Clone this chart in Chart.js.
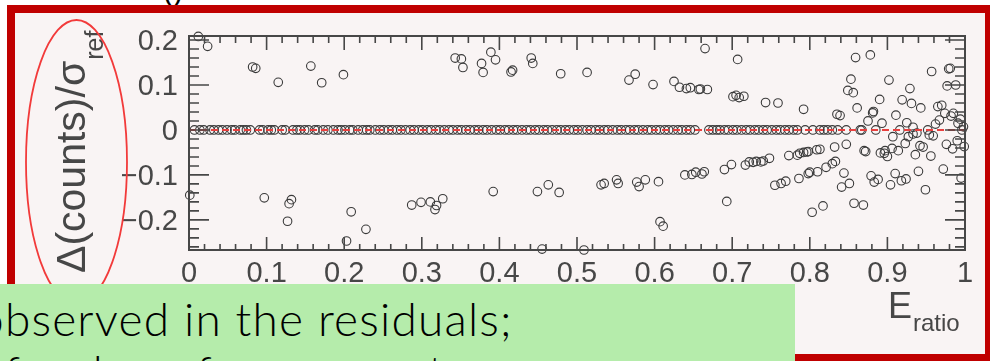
<!DOCTYPE html>
<html>
<head>
<meta charset="utf-8">
<script src="https://cdn.jsdelivr.net/npm/chart.js@4.4.1/dist/chart.umd.min.js"></script>
<style>
	html, body { margin: 0; padding: 0; background: #fff; }
	body { width: 990px; height: 361px; position: relative; overflow: hidden; }
	#stub { position: absolute; left: 163px; top: -26px; font: 30px "Liberation Sans", sans-serif; color: #000; }
	#frame {
		position: absolute; left: 7px; top: 5px; width: 983px; height: 356px;
		box-sizing: border-box; border-style: solid; border-color: #c00000;
		border-width: 8px 5px 7px 8px; background: #f9f4f4;
	}
	#chartCanvas { position: absolute; left: 0; top: 0; }
	#oval { position: absolute; left: 0; top: 0; }
	#note {
		position: absolute; left: 0; top: 284px; width: 795px; height: 77px;
		background: #b5ecab; overflow: hidden;
	}
	#note div {
		position: absolute; top: 8px; white-space: nowrap;
		font: 300 46px Lato, sans-serif; letter-spacing: 1.2px; line-height: 53px; color: #000;
	}
</style>
</head>
<body>
<div id="stub">()</div>
<div id="frame"></div>
<canvas id="chartCanvas" width="990" height="361"></canvas>
<svg id="oval" width="990" height="361"><ellipse cx="76.5" cy="162" rx="50.5" ry="142" fill="none" stroke="#f23a3a" stroke-width="1.8"/></svg>
<div id="note"><div id="noteText"><span id="cutO">o</span>bserved in the residuals;<br>of order a few percent</div></div>
<script>
const xTicks = [0, 0.1, 0.2, 0.3, 0.4, 0.5, 0.6, 0.7, 0.8, 0.9, 1];
const yTicks = [-0.2, -0.1, 0, 0.1, 0.2];

// points sitting on the zero line
const zeroX = [0.007, 0.014, 0.019, 0.027, 0.032, 0.038, 0.043, 0.049, 0.055, 0.059, 0.066, 0.070, 0.074, 0.079,
	0.091, 0.095, 0.102, 0.106, 0.110, 0.120, 0.124, 0.134, 0.139, 0.143, 0.149, 0.154, 0.162, 0.166, 0.173, 0.179,
	0.186, 0.192, 0.196, 0.201, 0.207, 0.211, 0.218, 0.224, 0.229, 0.233, 0.240, 0.246, 0.251, 0.257, 0.262, 0.268,
	0.273, 0.279, 0.285, 0.290, 0.296, 0.301, 0.307, 0.312, 0.318, 0.323, 0.329, 0.335, 0.340, 0.346, 0.351, 0.357,
	0.362, 0.368, 0.373, 0.379, 0.384, 0.390, 0.396, 0.401, 0.407, 0.412, 0.418, 0.423, 0.429, 0.435, 0.440, 0.446,
	0.451, 0.457, 0.462, 0.468, 0.474, 0.479, 0.485, 0.490, 0.496, 0.501, 0.507, 0.513, 0.518, 0.524, 0.529, 0.535,
	0.540, 0.546, 0.552, 0.557, 0.563, 0.568, 0.574, 0.579, 0.585, 0.591, 0.596, 0.602, 0.607, 0.613, 0.618, 0.624,
	0.630, 0.635, 0.641, 0.646, 0.652, 0.670, 0.675, 0.680, 0.684, 0.690, 0.695, 0.701, 0.706, 0.712, 0.718, 0.723,
	0.729, 0.734, 0.740, 0.745, 0.751, 0.757, 0.762, 0.768, 0.773, 0.779, 0.784, 0.794, 0.804, 0.813, 0.818, 0.823,
	0.829, 0.836, 0.847, 0.865, 0.867, 0.885, 0.916, 0.952, 0.996];

const upperX = [0.012, 0.024, 0.082, 0.086, 0.115, 0.157, 0.171, 0.199, 0.343, 0.351, 0.353, 0.377, 0.379, 0.389,
	0.395, 0.415, 0.417, 0.441, 0.443, 0.479, 0.513, 0.567, 0.575, 0.598, 0.625, 0.632, 0.641, 0.646, 0.657, 0.659,
	0.668, 0.665, 0.707, 0.701, 0.705, 0.709, 0.715, 0.743, 0.759, 0.792, 0.859, 0.878, 0.853, 0.849, 0.856, 0.861,
	0.835, 0.839, 0.881, 0.882, 0.875, 0.893, 0.890, 0.902, 0.911, 0.919, 0.929, 0.931, 0.943, 0.925, 0.933, 0.957,
	0.979, 0.981, 0.977, 0.988, 0.965, 0.970, 0.974, 0.982, 0.985, 0.994, 0.967, 0.962, 0.991, 0.998];
const upperY = [0.208, 0.186, 0.140, 0.137, 0.106, 0.142, 0.105, 0.123, 0.160, 0.158, 0.139, 0.148, 0.128, 0.173,
	0.156, 0.129, 0.133, 0.160, 0.148, 0.125, 0.128, 0.111, 0.124, 0.101, 0.108, 0.095, 0.092, 0.094, 0.090, 0.091,
	0.090, 0.181, 0.157, 0.074, 0.077, 0.072, 0.075, 0.061, 0.060, 0.046, 0.161, 0.167, 0.113, 0.088, 0.083, 0.049,
	0.035, 0.032, 0.038, 0.041, 0.020, 0.015, 0.068, 0.111, 0.033, 0.067, 0.092, 0.059, 0.049, 0.016, 0.006, 0.130,
	0.136, 0.137, 0.098, 0.100, 0.052, 0.055, 0.037, 0.031, 0.037, 0.024, 0.022, 0.013, 0.015, 0.007];

const lowerX = [0.001, 0.097, 0.132, 0.129, 0.127, 0.203, 0.209, 0.228, 0.287, 0.299, 0.311, 0.319, 0.317, 0.327,
	0.392, 0.449, 0.463, 0.477, 0.455, 0.509, 0.531, 0.535, 0.551, 0.553, 0.577, 0.580, 0.588, 0.605, 0.607, 0.611,
	0.639, 0.648, 0.653, 0.661, 0.664, 0.690, 0.699, 0.693, 0.717, 0.722, 0.727, 0.731, 0.737, 0.740, 0.748, 0.755,
	0.763, 0.769, 0.773, 0.784, 0.787, 0.792, 0.786, 0.907, 0.927, 0.923, 0.933, 0.938, 0.954, 0.959, 0.914, 0.906,
	0.900, 0.896, 0.891, 0.897, 0.872, 0.870, 0.847, 0.832, 0.813, 0.809, 0.798, 0.796, 0.800, 0.798, 0.810, 0.821,
	0.829, 0.833, 0.844, 0.841, 0.851, 0.879, 0.883, 0.888, 0.904, 0.910, 0.918, 0.924, 0.940, 0.949, 0.936, 0.942,
	0.946, 0.956, 0.972, 0.976, 0.984, 0.990, 0.999, 0.995, 0.857, 0.869, 0.817, 0.803];
const lowerY = [-0.145, -0.151, -0.155, -0.164, -0.203, -0.247, -0.182, -0.221, -0.167, -0.161, -0.160, -0.168,
	-0.177, -0.153, -0.137, -0.137, -0.122, -0.139, -0.265, -0.267, -0.122, -0.119, -0.111, -0.119, -0.116, -0.126,
	-0.111, -0.115, -0.204, -0.214, -0.100, -0.099, -0.094, -0.098, -0.093, -0.088, -0.077, -0.159, -0.078, -0.071,
	-0.072, -0.070, -0.071, -0.069, -0.063, -0.123, -0.119, -0.114, -0.057, -0.056, -0.052, -0.050, -0.108, -0.015,
	-0.015, -0.030, -0.009, -0.007, -0.011, -0.013, -0.046, -0.041, -0.059, -0.052, -0.051, -0.046, -0.048, -0.046,
	-0.032, -0.038, -0.043, -0.044, -0.048, -0.049, -0.094, -0.097, -0.093, -0.083, -0.075, -0.070, -0.096, -0.127,
	-0.119, -0.102, -0.116, -0.110, -0.122, -0.097, -0.113, -0.109, -0.092, -0.133, -0.055, -0.035, -0.038, -0.058,
	-0.087, -0.032, -0.042, -0.024, -0.037, -0.107, -0.163, -0.167, -0.169, -0.183];

const xRange = [0, 1];
const yRange = [-0.267, 0.209];

const axisColor = '#474747';
const markColor = '#3a3a3a';
const tickFont = { family: '"Liberation Sans", sans-serif', size: 29 };

// shift the note so only the tail of the first letter stays visible
(function() {
	const o = document.getElementById('cutO');
	document.getElementById('noteText').style.left = (5 - o.offsetWidth) + 'px';
})();

function fmtTick(v) {
	if (Math.abs(v) < 1e-9) return '0';
	if (v === 1) return '1';
	const s = Math.abs(v).toFixed(1);
	return v < 0 ? '\u2212' + s : s;
}

const rootFrame = {
	id: 'rootFrame',
	afterDatasetsDraw(chart) {
		const { ctx, chartArea: a, scales } = chart;
		const xs = scales.x, ys = scales.y;
		ctx.save();
		ctx.strokeStyle = axisColor;
		ctx.lineWidth = 2;
		ctx.strokeRect(a.left, a.top, a.right - a.left, a.bottom - a.top);
		ctx.lineWidth = 1.6;
		ctx.beginPath();
		// x ticks, top and bottom
		xTicks.forEach((v, i) => {
			const px = xs.getPixelForValue(v);
			ctx.moveTo(px, a.bottom); ctx.lineTo(px, a.bottom - 13);
			ctx.moveTo(px, a.top); ctx.lineTo(px, a.top + 14);
			if (i < xTicks.length - 1) {
				const step = (xTicks[i + 1] - v) / 5;
				for (let k = 1; k < 5; k++) {
					const mx = xs.getPixelForValue(v + k * step);
					ctx.moveTo(mx, a.bottom); ctx.lineTo(mx, a.bottom - 6);
					ctx.moveTo(mx, a.top); ctx.lineTo(mx, a.top + 7);
				}
			}
		});
		// y ticks, left and right
		const yStep = (yTicks[1] - yTicks[0]) / 5;
		for (let k = -10; k <= 30; k++) {
			const v = yTicks[0] + k * yStep;
			if (v < yRange[0] || v > yRange[1]) continue;
			const major = k % 5 === 0;
			const len = major ? 20 : 10;
			const py = ys.getPixelForValue(v);
			ctx.moveTo(a.left, py); ctx.lineTo(a.left + len, py);
			ctx.moveTo(a.right, py); ctx.lineTo(a.right - len, py);
		}
		ctx.stroke();

		// axis titles
		ctx.fillStyle = axisColor;
		ctx.textBaseline = 'alphabetic';
		ctx.textAlign = 'left';
		ctx.font = '36px "Liberation Sans", sans-serif';
		ctx.fillText('E', 888, 318);
		const ew = ctx.measureText('E').width;
		ctx.font = '24px "Liberation Sans", sans-serif';
		ctx.fillText('ratio', 888 + ew + 1, 331);

		ctx.translate(85, 273);
		ctx.rotate(-Math.PI / 2);
		ctx.font = '41px "Liberation Sans", sans-serif';
		ctx.fillText('\u0394(counts)/\u03c3', 0, 0);
		const w = ctx.measureText('\u0394(counts)/\u03c3').width;
		ctx.font = '25px "Liberation Sans", sans-serif';
		ctx.fillText('ref', w + 1, 18);
		ctx.restore();
	}
};

const pointStyle = {
	pointRadius: 4.3,
	pointBorderWidth: 1.1,
	pointBorderColor: markColor,
	pointBackgroundColor: 'rgba(0,0,0,0)',
	showLine: false
};

const ctx = document.getElementById('chartCanvas').getContext('2d');
const chart = new Chart(ctx, {
	type: 'scatter',
	data: {
		datasets: [
			Object.assign({ label: 'zero', data: zeroX.map(x => ({ x, y: 0 })), order: 2 }, pointStyle),
			Object.assign({ label: 'upper', data: upperX.map((x, i) => ({ x, y: upperY[i] })), order: 2 }, pointStyle),
			Object.assign({ label: 'lower', data: lowerX.map((x, i) => ({ x, y: lowerY[i] })), order: 2 }, pointStyle),
			{
				type: 'line', label: 'ref', order: 0,
				data: [{ x: xRange[0], y: 0 }, { x: xRange[1], y: 0 }],
				borderColor: '#e8403f', borderWidth: 2, borderDash: [7, 4],
				pointRadius: 0, fill: false
			}
		]
	},
	options: {
		responsive: false,
		devicePixelRatio: 1,
		animation: false,
		clip: false,
		layout: { padding: { left: 0, right: 25, top: 36, bottom: 0 } },
		plugins: { legend: { display: false }, tooltip: { enabled: false } },
		scales: {
			x: {
				type: 'linear', min: xRange[0], max: xRange[1],
				afterBuildTicks: s => { s.ticks = xTicks.map(v => ({ value: v })); },
				afterFit: s => { s.height = 111; },
				grid: { display: false, drawTicks: false },
				border: { display: false },
				ticks: {
					color: axisColor, padding: 7, maxRotation: 0, autoSkip: false,
					font: tickFont,
					callback: v => fmtTick(v)
				}
			},
			y: {
				type: 'linear', min: yRange[0], max: yRange[1],
				afterBuildTicks: s => { s.ticks = yTicks.map(v => ({ value: v })); },
				afterFit: s => { s.width = 189; },
				grid: { display: false, drawTicks: false },
				border: { display: false },
				ticks: {
					color: axisColor, padding: 11, autoSkip: false, labelOffset: 2,
					font: tickFont,
					callback: v => fmtTick(v)
				}
			}
		}
	},
	plugins: [rootFrame]
});
</script>
</body>
</html>
